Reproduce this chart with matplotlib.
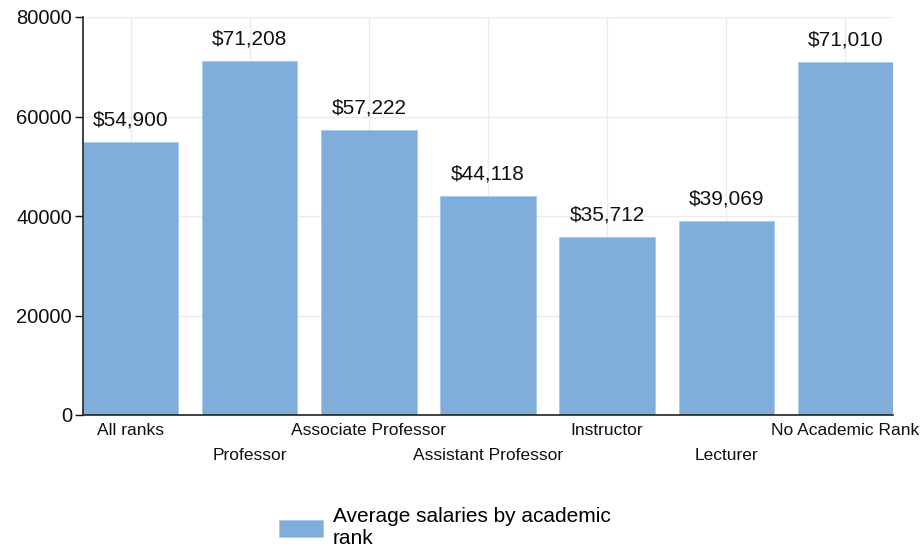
import matplotlib
matplotlib.use('Agg')
import matplotlib.pyplot as plt
import numpy as np

# Data
ranks = ['All ranks', 'Professor', 'Associate Professor', 'Assistant Professor',
         'Instructor', 'Lecturer', 'No Academic Rank']
salaries = [54900, 71208, 57222, 44118, 35712, 39069, 71010]
series_name = 'Average salaries by academic\nrank'

plt.rcParams['font.family'] = ['Liberation Sans', 'DejaVu Sans']

fig = plt.figure(figsize=(9.23, 5.5), dpi=100)
ax = fig.add_axes([83 / 923, 1 - 415 / 550, 810 / 923, 398 / 550])

x = np.arange(len(ranks))
width = 0.8
bars = ax.bar(x, salaries, width=width, color='#80aedb', edgecolor='#a9c9e8',
              linewidth=0.6, label=series_name, zorder=2)

# value labels above bars
for xi, v in zip(x, salaries):
    ax.annotate(f'${v:,}', (xi, v), xytext=(0, 9), textcoords='offset points',
                ha='center', va='bottom', fontsize=15, color='#111111')

ax.set_xlim(-width / 2, len(ranks) - 1 + width / 2)
ax.set_ylim(0, 80000)
ax.set_yticks([0, 20000, 40000, 60000, 80000])
ax.set_xticks(x)
ax.set_xticklabels(['' for _ in ranks])

# staggered category labels
for xi, name in zip(x, ranks):
    dy = 0 if xi % 2 == 0 else 25
    ax.annotate(name, (xi, 0), xytext=(0, -8 - dy), textcoords='offset pixels',
                ha='center', va='top', fontsize=12.5, color='#111111',
                annotation_clip=False)

ax.tick_params(axis='x', length=0)
ax.tick_params(axis='y', length=6, width=1, labelsize=14.5, pad=2, colors='#111111')
ax.grid(True, color='#ebebeb', linewidth=1, zorder=0)
ax.set_axisbelow(True)
for s in ['top', 'right']:
    ax.spines[s].set_visible(False)
ax.spines['left'].set_color('#222222')
ax.spines['bottom'].set_color('#222222')
ax.spines['left'].set_linewidth(1.2)
ax.spines['bottom'].set_linewidth(1.2)

fig.legend(handles=[bars], labels=[series_name], loc='upper left',
           bbox_to_anchor=(269 / 923, 1 - 497 / 550), frameon=False,
           fontsize=15, handlelength=2.1, handleheight=0.85, handletextpad=0.45,
           borderpad=0, labelspacing=0)

fig.savefig('out.png', dpi=100)
